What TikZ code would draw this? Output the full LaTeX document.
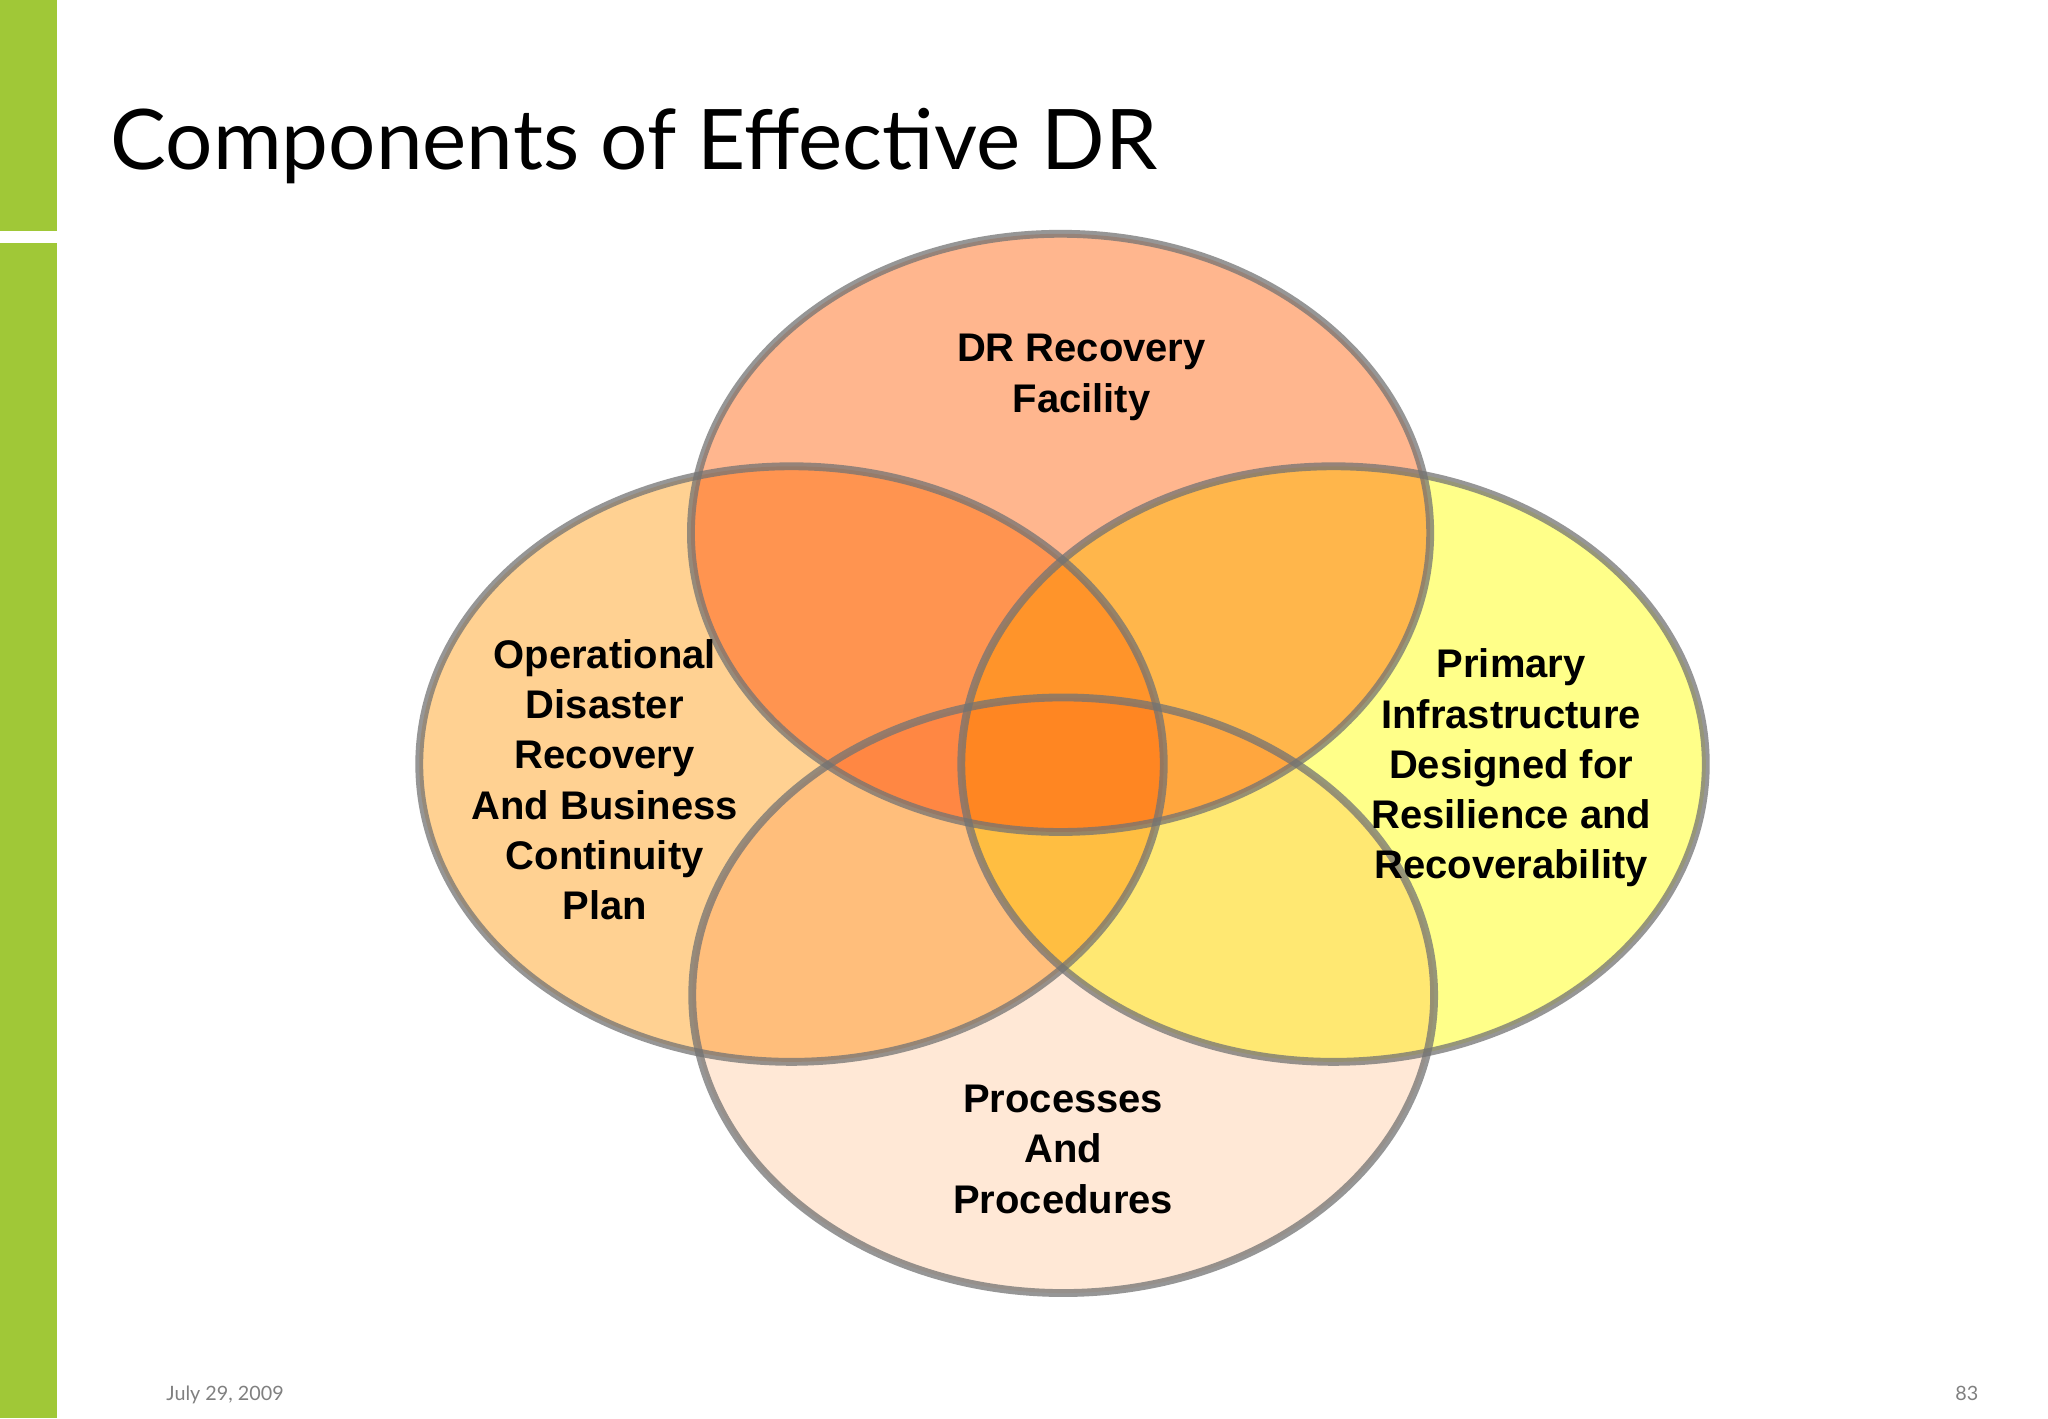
\documentclass[tikz,border=0pt]{standalone}
\usepackage{fontspec}
\setmainfont{Liberation Sans}
\newfontfamily\titlefont{Lato}
\definecolor{barg}{RGB}{160,200,55}
\begin{document}
\begin{tikzpicture}[x=0.01cm,y=-0.01cm,
  venn/.style={draw=gray!90!black,draw opacity=0.75,line width=0.6mm},
  lbl/.style={font=\fontsize{8.7}{10.95}\selectfont\bfseries,align=center,text=black}]
\useasboundingbox (0,0) rectangle (1568,1086);
\fill[white] (0,0) rectangle (1568,1086);
\fill[barg] (0,0) rectangle (44,177);
\fill[barg] (0,186) rectangle (44,1086);
\node[anchor=base west,font=\titlefont\fontsize{18.2}{22}\selectfont,inner sep=0] (title) at (84,130) {Components of Effective DR};
\begin{scope}[blend group=multiply]
\fill[fill opacity=0.9,fill={rgb,255:red,255;green,175;blue,130}] (812,408) ellipse [x radius=283,y radius=229];
\fill[fill opacity=0.9,fill={rgb,255:red,255;green,205;blue,135}] (606,585) ellipse [x radius=285,y radius=228];
\fill[fill opacity=0.9,fill={rgb,255:red,255;green,255;blue,125}] (1021,585) ellipse [x radius=285,y radius=228];
\fill[fill opacity=0.9,fill={rgb,255:red,255;green,230;blue,210}] (814,762) ellipse [x radius=284,y radius=228];
\end{scope}
\draw[venn] (812,408) ellipse [x radius=283,y radius=229];
\draw[venn] (606,585) ellipse [x radius=285,y radius=228];
\draw[venn] (1021,585) ellipse [x radius=285,y radius=228];
\draw[venn] (814,762) ellipse [x radius=284,y radius=228];
\node[lbl] (top) at (828,289) {DR Recovery\\Facility};
\node[lbl] (left) at (463,597) {Operational\\Disaster\\Recovery\\And Business\\Continuity\\Plan};
\node[lbl] (right) at (1157,588) {Primary\\Infrastructure\\Designed for\\Resilience and\\Recoverability};
\node[lbl] (bot) at (814,880) {Processes\\And\\Procedures};
\node[anchor=base west,font=\titlefont\fontsize{4.3}{5}\selectfont,text=gray] (date) at (115,1072) {July 29, 2009};
\node[anchor=base east,font=\titlefont\fontsize{4.3}{5}\selectfont,text=gray] (pg) at (1527,1072) {83};
\end{tikzpicture}
\end{document}
